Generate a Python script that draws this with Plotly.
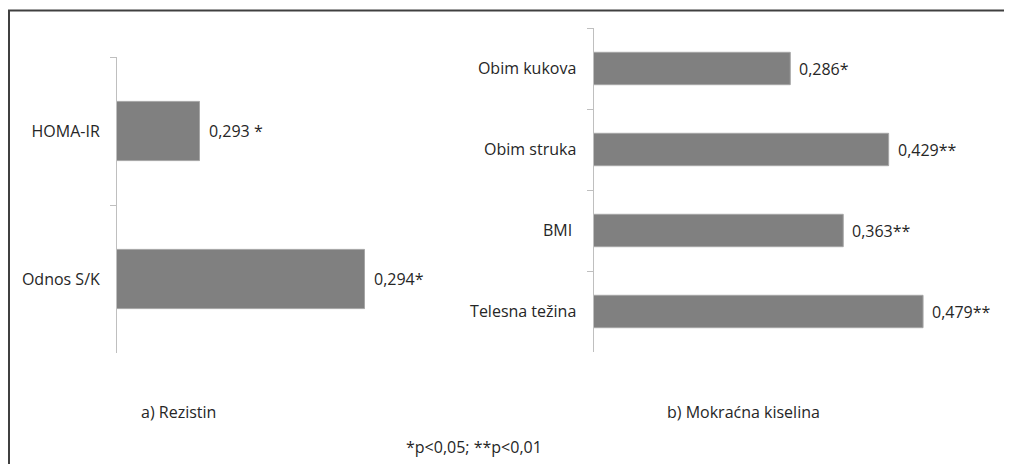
import plotly.graph_objects as go

W, H = 1012, 464
OFF = 8  # page body margin offset

# Data
rez_categories = ["HOMA-IR", "Odnos S/K"]
rez_values = [0.293, 0.294]
rez_labels = ["0,293 *", "0,294*"]

mk_categories = ["Obim kukova", "Obim struka", "BMI\u00a0", "Telesna težina"]
mk_values = [0.286, 0.429, 0.363, 0.479]
mk_labels = ["0,286*", "0,429**", "0,363**", "0,479**"]

panel_titles = ["a) Rezistin", "b) Mokraćna kiselina"]
footnote = "*p<0,05; **p<0,01"

BAR = "#808080"
EDGE = "#a6a6a6"
AX = "#bfbfbf"
TXT = "#262626"
FONT = "Open Sans"
FS = 16


def px(x):
    return (x - OFF) / W


def py(y):
    return 1 - (y - OFF) / H


fig = go.Figure()

fig.add_trace(go.Bar(
    x=rez_values, y=rez_categories, orientation="h",
    marker=dict(color=BAR, line=dict(color=EDGE, width=1)),
    width=0.4, xaxis="x", yaxis="y", showlegend=False, hoverinfo="skip"))

fig.add_trace(go.Bar(
    x=mk_values, y=mk_categories, orientation="h",
    marker=dict(color=BAR, line=dict(color=EDGE, width=1)),
    width=0.4, xaxis="x2", yaxis="y2", showlegend=False, hoverinfo="skip"))

# left axis scale: bars start at ~0.2925 (as in original), 165000 px per unit
left_x0, left_x1 = 117, 420
left_min = 0.2925
left_max = left_min + (left_x1 - left_x0) / 165000.0
right_x0, right_x1 = 593.5, 1004
right_max = (right_x1 - right_x0) / 688.0

yaxis_common = dict(
    type="category", autorange="reversed", showline=True, linecolor=AX,
    linewidth=1, ticks="outside", ticklen=6, tickcolor=AX, tickwidth=1,
    tickson="boundaries", showgrid=False, zeroline=False,
    tickfont=dict(family=FONT, size=FS, color=TXT), ticklabelstandoff=13,
)

fig.update_layout(
    width=W, height=H, margin=dict(l=0, r=0, t=0, b=0),
    paper_bgcolor="white", plot_bgcolor="rgba(0,0,0,0)",
    bargap=0.6,
    font=dict(family=FONT, size=FS, color=TXT),
    xaxis=dict(domain=[px(left_x0), px(left_x1)], range=[left_min, left_max],
               visible=False, anchor="y"),
    yaxis=dict(domain=[py(353), py(57)], anchor="x", **yaxis_common),
    xaxis2=dict(domain=[px(right_x0), px(right_x1)], range=[0, right_max],
                visible=False, anchor="y2"),
    yaxis2=dict(domain=[py(352), py(28)], anchor="x2", **yaxis_common),
)

annotations = []
for cat, val, lab in zip(rez_categories, rez_values, rez_labels):
    annotations.append(dict(x=val, y=cat, xref="x", yref="y", text=lab,
                            showarrow=False, xanchor="left", yanchor="middle",
                            xshift=7, font=dict(family=FONT, size=FS, color=TXT)))
for cat, val, lab in zip(mk_categories, mk_values, mk_labels):
    annotations.append(dict(x=val, y=cat, xref="x2", yref="y2", text=lab,
                            showarrow=False, xanchor="left", yanchor="middle",
                            xshift=7, font=dict(family=FONT, size=FS, color=TXT)))

annotations.append(dict(x=px(139), y=py(412), xref="paper", yref="paper",
                        text=panel_titles[0], showarrow=False, xanchor="left",
                        yanchor="middle", font=dict(family=FONT, size=FS, color=TXT)))
annotations.append(dict(x=px(822), y=py(412), xref="paper", yref="paper",
                        text=panel_titles[1], showarrow=False, xanchor="right",
                        yanchor="middle", font=dict(family=FONT, size=FS, color=TXT)))
annotations.append(dict(x=px(404), y=py(447), xref="paper", yref="paper",
                        text=footnote, showarrow=False, xanchor="left",
                        yanchor="middle", font=dict(family=FONT, size=FS, color=TXT)))
fig.update_layout(annotations=annotations)

# outer frame (top and left edges visible)
fig.add_shape(type="line", xref="paper", yref="paper", x0=px(8), x1=1,
              y0=py(10.5), y1=py(10.5), line=dict(color="#404040", width=2))
fig.add_shape(type="line", xref="paper", yref="paper", x0=px(9), x1=px(9),
              y0=0, y1=py(10), line=dict(color="#404040", width=2))

fig.write_html("out.html")
